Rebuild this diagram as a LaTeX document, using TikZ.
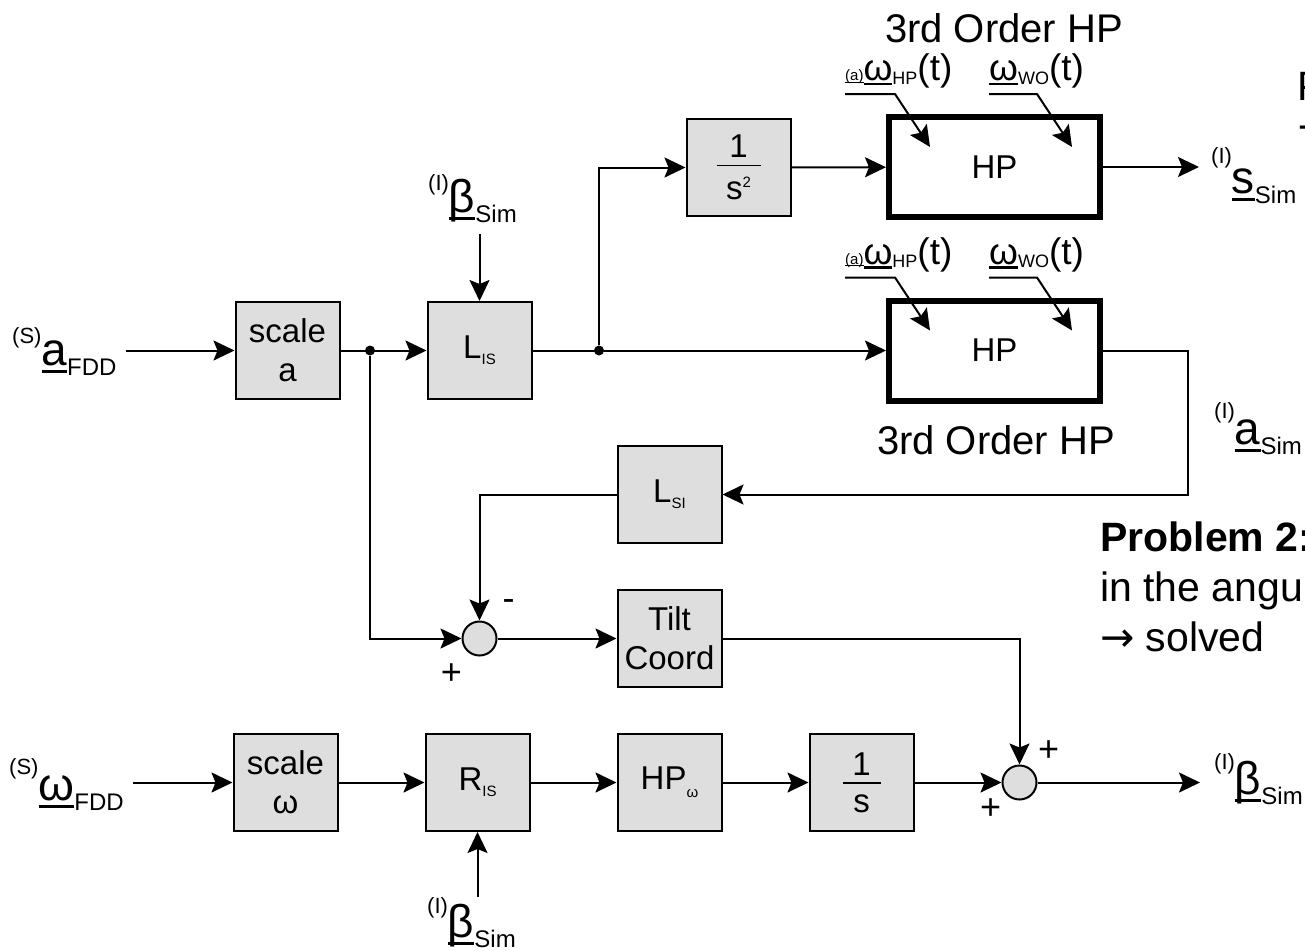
\documentclass[tikz,border=0pt]{standalone}
\usepackage{fontspec}
\setmainfont{Liberation Sans}
\newfontfamily\arrowfont{DejaVu Sans}
\usetikzlibrary{arrows.meta,positioning,calc}

\definecolor{boxgray}{HTML}{DEDEDE}
% underlined vector letter
\newcommand{\uvec}[2][0.17em]{\setbox0\hbox{#2}\rlap{\rule[-#1]{\wd0}{0.07em}}\box0}
% small lowered index
\newcommand{\lowsub}[2][-6pt]{\raisebox{#1}{\fontsize{15}{15}\selectfont #2}}
% frame prefix, vector, index
\newcommand{\sig}[4][24pt]{\raisebox{#1}{\fontsize{22}{22}\selectfont #2}\uvec{#3}\raisebox{-10pt}{\fontsize{24}{24}\selectfont #4}}
% fraction inside a block
\newcommand{\blkfrac}[3][40pt]{\vbox{\hbox to #1{\hss#2\hss}\kern7pt\hrule height 1.5pt\kern11pt\hbox to #1{\hss#3\hss}}}

\begin{document}
\begin{tikzpicture}[x=1pt, y=-1pt,
    node distance=45pt and 86pt,
    block/.style={draw, line width=2pt, fill=boxgray, minimum width=104pt, minimum height=97pt,
                  inner sep=0pt, align=center, font=\fontsize{33}{39}\selectfont},
    hpbox/.style={draw, line width=6pt, fill=white, minimum width=211pt, minimum height=100pt,
                  font=\fontsize{33}{39}\selectfont},
    sumnode/.style={circle, draw, line width=2pt, fill=boxgray, minimum size=34pt, inner sep=0pt},
    junction/.style={circle, fill=black, minimum size=10pt, inner sep=0pt},
    siglabel/.style={inner sep=0pt, anchor=base west, font=\fontsize{46}{52}\selectfont},
    wlabel/.style={inner sep=0pt, anchor=base west, font=\fontsize{37}{42}\selectfont},
    hptitle/.style={font=\fontsize{40}{48}\selectfont},
    note/.style={inner sep=0pt, anchor=base west, font=\fontsize{41}{50}\selectfont},
    pm/.style={inner sep=0pt, font=\fontsize{36}{36}\selectfont},
    arrow/.style={-{Stealth[length=21pt, width=20pt, inset=4pt]}, line width=2pt}
]
\useasboundingbox (0,0) rectangle (1305,950);
\clip (0,0) rectangle (1305,950);

% blocks
\node[block] (scalea) at (287.5,350.5) {scale\\a};
\node[block, right=of scalea] (lis) {L\lowsub{IS}};
\node[block, below right=45pt and 84pt of lis] (lsi) {L\lowsub{SI}};
\node[block, below=of lsi] (tilt) {Tilt\\Coord};
\node[block, below=of tilt] (hpw) {HP\lowsub[-8pt]{ω}};
\node[block, left=of hpw] (ris) {R\lowsub{IS}};
\node[block, left=of ris] (scalew) {scale\\ω};
\node[block, right=of hpw] (invs) {\blkfrac[38pt]{1}{s}};
\node[block] (invs2) at (738.5,167.5) {\blkfrac[44pt]{1}{s\raisebox{12pt}{\fontsize{15}{15}\selectfont 2}}};
\node[hpbox] (hp1) at (994.5,167) {HP};
\node[hpbox] (hp2) at (994.5,350.5) {HP};
\node[sumnode] (sum1) at (lis |- tilt) {};
\node[sumnode, right=87pt of invs] (sum2) {};
\node[junction] (dot1) at (370,350.5) {};
\node[junction] (dot2) at (599,350.5) {};

% signals
\node[siglabel] (afdd) at (12,365) {\sig[22pt]{(S)}{a}{FDD}};
\node[siglabel] (wfdd) at (9,800) {\sig[26pt]{(S)}{ω}{FDD}};
\node[siglabel] (btop) at (428,212) {\sig[22pt]{(I)}{β}{Sim}};
\node[siglabel] (bbot) at (427,937) {\sig[24pt]{(I)}{β}{Sim}};
\node[siglabel] (ssim) at (1211,193) {\sig[30pt]{(I)}{s}{Sim}};
\node[siglabel] (asim) at (1214,444) {\sig[26pt]{(I)}{a}{Sim}};
\node[siglabel] (bsim) at (1214,794) {\sig[25pt]{(I)}{β}{Sim}};

% HP inputs
\node[wlabel] (wa1) at ($(hp1.north west)+(-41,-33)$) {{\fontsize{15}{15}\selectfont\uvec[0.12em]{(a)}}\uvec[0.12em]{ω}\lowsub[-3pt]{\fontsize{18}{18}\selectfont HP}(t)};
\node[wlabel] (ww1) at ($(hp1.north west)+(103,-33)$) {\uvec[0.12em]{ω}\lowsub[-3pt]{\fontsize{18}{18}\selectfont WO}(t)};
\node[wlabel] (wa2) at ($(hp2.north west)+(-41,-33)$) {{\fontsize{15}{15}\selectfont\uvec[0.12em]{(a)}}\uvec[0.12em]{ω}\lowsub[-3pt]{\fontsize{18}{18}\selectfont HP}(t)};
\node[wlabel] (ww2) at ($(hp2.north west)+(103,-33)$) {\uvec[0.12em]{ω}\lowsub[-3pt]{\fontsize{18}{18}\selectfont WO}(t)};

\node[hptitle] (title1) at (1004,28) {3rd Order HP};
\node[hptitle] (title2) at (996,440) {3rd Order HP};

% signs at the sums
\node[pm] (sum1m) at ($(sum1)+(29,-33)$) {-};
\node[pm] (sum1p) at ($(sum1)+(-28,36)$) {+};
\node[pm] (sum2a) at ($(sum2)+(29,-31)$) {+};
\node[pm] (sum2b) at ($(sum2)+(-29,27)$) {+};

% notes at the right edge
\node[note] (prob1) at (1297,100) {P};
\node[note] (prob1b) at (1298,138) {-};
\node[note] (prob2) at (1100,551) {\textbf{Problem 2:}};
\node[note] (prob2b) at (1100,601) {in the angu};
\node[note] (prob2c) at (1100,651) {{\arrowfont →} solved};

% connections
\draw[arrow] ([xshift=9pt]afdd.east |- scalea) -- (scalea);
\draw[arrow] (scalea) -- (lis);
\draw[arrow] ([yshift=-12pt]btop.south -| lis) -- (lis);
\draw[arrow] (lis) -- (hp2);
\draw[arrow] (dot2) |- (invs2);
\draw[arrow] (invs2) -- (hp1);
\draw[arrow] (hp1) -- ([xshift=-12pt]ssim.west |- hp1);
\draw[arrow] (hp2.east) -- ++(85,0) |- (lsi.east);
\draw[arrow] (lsi) -| (sum1);
\draw[arrow] (dot1) |- (sum1);
\draw[arrow] (sum1) -- (tilt);
\draw[arrow] (tilt) -| (sum2);
\draw[arrow] ([xshift=9pt]wfdd.east |- scalew) -- (scalew);
\draw[arrow] (scalew) -- (ris);
\draw[arrow] (bbot.north -| ris) -- (ris);
\draw[arrow] (ris) -- (hpw);
\draw[arrow] (hpw) -- (invs);
\draw[arrow] (invs) -- (sum2);
\draw[arrow] (sum2) -- ([xshift=-14pt]bsim.west |- sum2);

\draw[arrow] ([yshift=-13pt]wa1.base west) -- ++(50,0) -- ($(hp1.north west)+(44,33)$);
\draw[arrow] ([yshift=-13pt]ww1.base west) -- ++(48,0) -- ($(hp1.north west)+(186,33)$);
\draw[arrow] ([yshift=-13pt]wa2.base west) -- ++(50,0) -- ($(hp2.north west)+(44,33)$);
\draw[arrow] ([yshift=-13pt]ww2.base west) -- ++(48,0) -- ($(hp2.north west)+(186,33)$);
\end{tikzpicture}
\end{document}
